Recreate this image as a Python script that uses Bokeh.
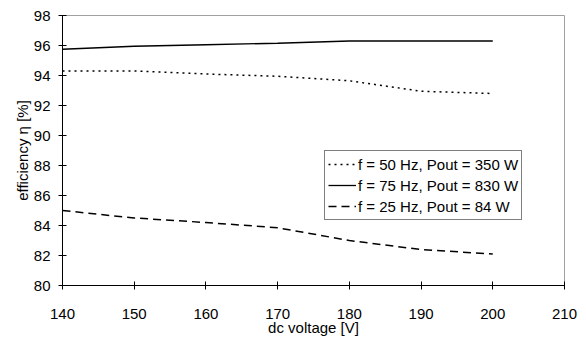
from bokeh.plotting import figure
from bokeh.models import Legend, LegendItem, Range1d, FixedTicker
from bokeh.embed import file_html
from bokeh.resources import INLINE

voltage = [140, 150, 160, 170, 180, 190, 200]
eff_50hz = [94.3, 94.3, 94.1, 93.95, 93.65, 92.95, 92.8]
eff_75hz = [95.75, 95.95, 96.05, 96.15, 96.3, 96.3, 96.3]
eff_25hz = [85.0, 84.5, 84.2, 83.85, 83.0, 82.4, 82.1]
labels = ["f = 50 Hz, Pout = 350 W", "f = 75 Hz, Pout = 830 W", "f = 25 Hz, Pout = 84 W"]
x_ticks = [140, 150, 160, 170, 180, 190, 200, 210]
y_ticks = [80, 82, 84, 86, 88, 90, 92, 94, 96, 98]

FONT = "Liberation Sans"

p = figure(width=586, height=345, output_backend="svg", toolbar_location=None,
           x_range=Range1d(140, 210), y_range=Range1d(80, 98),
           min_border_left=62, min_border_right=22, min_border_top=15, min_border_bottom=60)
p.outline_line_color = "#a0a0a0"
p.outline_line_width = 1
p.xgrid.visible = False
p.ygrid.visible = False
p.background_fill_color = "white"
p.border_fill_color = "white"

r1 = p.line(voltage, eff_50hz, line_color="black", line_width=1.5, line_dash="2 4")
r2 = p.line(voltage, eff_75hz, line_color="black", line_width=1.3)
r3 = p.line(voltage, eff_25hz, line_color="black", line_width=1.5, line_dash="8 5")

for ax in (p.xaxis[0], p.yaxis[0]):
    ax.axis_line_color = "black"
    ax.axis_line_width = 1
    ax.major_tick_line_color = "black"
    ax.major_tick_in = 4
    ax.major_tick_out = 4
    ax.minor_tick_line_color = None
    ax.major_label_text_font = FONT
    ax.major_label_text_font_size = "15px"
    ax.major_label_text_color = "black"
    ax.axis_label_text_font = FONT
    ax.axis_label_text_font_size = "15px"
    ax.axis_label_text_font_style = "normal"
    ax.axis_label_text_color = "black"

p.xaxis[0].ticker = FixedTicker(ticks=x_ticks)
p.yaxis[0].ticker = FixedTicker(ticks=y_ticks)
p.xaxis[0].axis_label = "dc voltage [V]"
p.yaxis[0].axis_label = "efficiency η [%]"
p.xaxis[0].major_label_standoff = 19
p.yaxis[0].major_label_standoff = 8
p.xaxis[0].axis_label_standoff = -3
p.yaxis[0].axis_label_standoff = 0

legend = Legend(items=[LegendItem(label=labels[0], renderers=[r1]),
                       LegendItem(label=labels[1], renderers=[r2]),
                       LegendItem(label=labels[2], renderers=[r3])],
                location=(262, 65))
legend.border_line_color = "black"
legend.border_line_width = 1
legend.background_fill_color = "white"
legend.background_fill_alpha = 1
legend.label_text_font = FONT
legend.label_text_font_size = "15px"
legend.label_text_color = "black"
legend.padding = 3
legend.spacing = 1
legend.margin = 0
legend.label_height = 20
legend.glyph_height = 20
legend.glyph_width = 28
legend.label_standoff = 2
p.add_layout(legend, "center")

open("out.html", "w").write(file_html(p, INLINE))
